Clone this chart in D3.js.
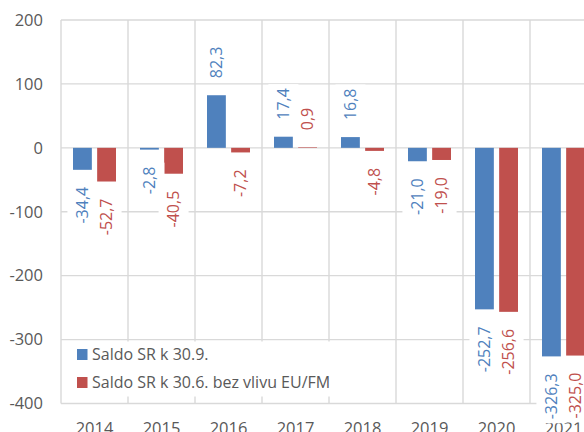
<!DOCTYPE html>
<html>
<head>
<meta charset="utf-8">
<script src="https://cdn.jsdelivr.net/npm/d3@7"></script>
<style>
  html, body { margin: 0; padding: 0; background: #fff; overflow: hidden; }
  svg { display: block; font-family: 'Open Sans', 'Noto Sans', sans-serif; }
</style>
</head>
<body>
<div id="chart"></div>
<script>
'use strict';

var years = ['2014', '2015', '2016', '2017', '2018', '2019', '2020', '2021'];
var seriesNames = ['Saldo SR k 30.9.', 'Saldo SR k 30.6. bez vlivu EU/FM'];
var saldo309 = [-34.4, -2.8, 82.3, 17.4, 16.8, -21.0, -252.7, -326.3];
var saldo306 = [-52.7, -40.5, -7.2, 0.9, -4.8, -19.0, -256.6, -325.0];
var yTicks = [200, 100, 0, -100, -200, -300, -400];
var colors = ['#4F81BD', '#C0504D'];

var w = 584;
var h = 432;
var margin = {left: 61, top: 20};
var bandWidth = 67;
var plotRight = margin.left + bandWidth * years.length;
var plotBottom = 403.5;

var svg = d3.select('#chart').append('svg')
  .attr('width', w)
  .attr('height', h);

var x0 = d3.scaleBand()
  .domain(years)
  .range([margin.left, plotRight]);

var x1 = d3.scaleBand()
  .domain([0, 1])
  .range([12, bandWidth - 12])
  .paddingInner(0.22);

var y = d3.scaleLinear()
  .domain([-400, 200])
  .range([plotBottom, margin.top]);

var rows = years.map(function (yr, i) {
  return {year: yr, values: [saldo309[i], saldo306[i]]};
});

/* Gridlines */

svg.append('g')
  .selectAll('line')
  .data(yTicks)
  .enter()
  .append('line')
  .attr('x1', margin.left)
  .attr('x2', plotRight)
  .attr('y1', function (d) { return y(d); })
  .attr('y2', function (d) { return y(d); })
  .style('stroke', '#d9d9d9')
  .style('stroke-width', 1.4);

svg.append('g')
  .selectAll('line')
  .data(years.concat(['end']))
  .enter()
  .append('line')
  .attr('x1', function (d, i) { return margin.left + i * x0.step(); })
  .attr('x2', function (d, i) { return margin.left + i * x0.step(); })
  .attr('y1', margin.top)
  .attr('y2', plotBottom)
  .style('stroke', '#d9d9d9')
  .style('stroke-width', 1.4);

/* Y tick labels */

svg.append('g')
  .selectAll('text')
  .data(yTicks)
  .enter()
  .append('text')
  .text(function (d) { return d; })
  .attr('x', 43)
  .attr('y', function (d) { return y(d); })
  .attr('dy', '0.35em')
  .attr('text-anchor', 'end')
  .attr('font-size', '16.5px')
  .attr('fill', '#595959');

/* X labels (cut by the bottom edge, as in the source) */

svg.append('g')
  .selectAll('text')
  .data(years)
  .enter()
  .append('text')
  .text(function (d) { return d; })
  .attr('x', function (d) { return x0(d) + x0.bandwidth() / 2; })
  .attr('y', 433.5)
  .attr('text-anchor', 'middle')
  .attr('font-size', '16.5px')
  .attr('fill', '#595959');

/* Bars */

var groups = svg.append('g')
  .selectAll('g')
  .data(rows)
  .enter()
  .append('g')
  .attr('transform', function (d) { return 'translate(' + x0(d.year) + ',0)'; });

groups.selectAll('rect')
  .data(function (d) { return d.values; })
  .enter()
  .append('rect')
  .attr('x', function (d, i) { return x1(i); })
  .attr('width', x1.bandwidth())
  .attr('y', function (d) { return y(Math.max(0, d)); })
  .attr('height', function (d) { return Math.abs(y(d) - y(0)); })
  .style('fill', function (d, i) { return colors[i]; });

/* Legend */

svg.append('rect')
  .attr('x', 62)
  .attr('y', 341.5)
  .attr('width', 281)
  .attr('height', 55)
  .style('fill', '#fff');

var legend = svg.append('g')
  .selectAll('g')
  .data(seriesNames)
  .enter()
  .append('g')
  .attr('transform', function (d, i) { return 'translate(77,' + (349 + i * 28) + ')'; });

legend.append('rect')
  .attr('width', 10.5)
  .attr('height', 11)
  .style('fill', function (d, i) { return colors[i]; });

legend.append('text')
  .text(function (d) { return d; })
  .attr('x', 15)
  .attr('y', 11)
  .attr('font-size', '16px')
  .attr('fill', '#595959');

/* Data labels */

var labels = groups.selectAll('g.lbl')
  .data(function (d) { return d.values; })
  .enter()
  .append('g')
  .attr('class', 'lbl')
  .attr('transform', function (d, i) {
    var cx = x1(i) + x1.bandwidth() / 2;
    var cy = d < 0 ? y(d) + 17 : y(d) - 17;
    return 'translate(' + cx + ',' + cy + ') rotate(-90)';
  });

labels.append('rect')
  .style('fill', '#fff');

labels.append('text')
  .text(function (d) { return d3.format('.1f')(d).replace('\u2212', '-').replace('.', ','); })
  .attr('text-anchor', function (d) { return d < 0 ? 'end' : 'start'; })
  .attr('dy', '0.36em')
  .attr('font-size', '16px')
  .attr('fill', function (d, i) { return colors[i]; });

labels.each(function (d) {
  var g = d3.select(this);
  var len = g.select('text').node().getComputedTextLength();
  g.select('rect')
    .attr('x', d < 0 ? -len - 4 : -4)
    .attr('y', -15)
    .attr('width', len + 8)
    .attr('height', 30);
});
</script>
</body>
</html>
